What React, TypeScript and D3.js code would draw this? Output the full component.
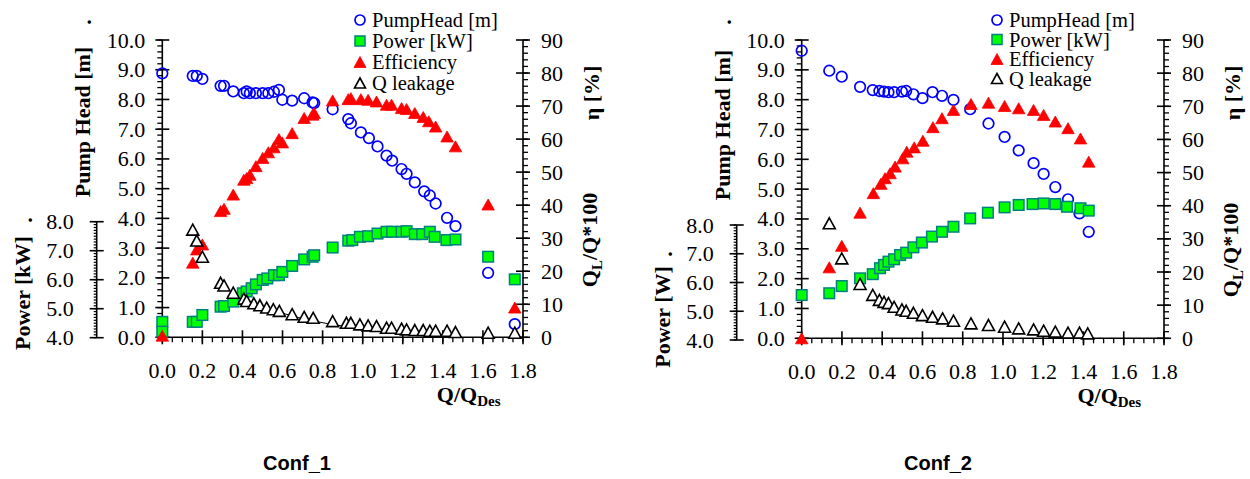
import React from 'react';
import * as d3 from 'd3';

// ---------- DATA (Conf_1) ----------
const head1Q = [0, 0.152, 0.172, 0.2, 0.291, 0.308, 0.354, 0.407, 0.421, 0.437, 0.467, 0.501, 0.529, 0.557, 0.582, 0.599, 0.648, 0.708, 0.75, 0.758, 0.85, 0.928, 0.941, 0.991, 1.031, 1.074, 1.119, 1.147, 1.194, 1.219, 1.26, 1.307, 1.335, 1.364, 1.421, 1.463, 1.626, 1.759];
const head1 = [8.88, 8.79, 8.79, 8.69, 8.46, 8.46, 8.27, 8.21, 8.27, 8.21, 8.21, 8.21, 8.21, 8.26, 8.32, 7.99, 7.96, 8.04, 7.9, 7.88, 7.67, 7.34, 7.2, 6.89, 6.7, 6.42, 6.11, 5.94, 5.66, 5.5, 5.21, 4.91, 4.77, 4.5, 4.02, 3.74, 2.17, 0.44];
const pow1Q = [0, 0, 0.152, 0.172, 0.2, 0.291, 0.308, 0.354, 0.402, 0.421, 0.446, 0.467, 0.501, 0.524, 0.557, 0.582, 0.599, 0.648, 0.708, 0.75, 0.758, 0.85, 0.928, 0.948, 0.986, 1.027, 1.074, 1.119, 1.147, 1.194, 1.219, 1.26, 1.297, 1.335, 1.359, 1.418, 1.463, 1.626, 1.759];
const pow1 = [0.52, 0.19, 0.52, 0.52, 0.75, 1.03, 1.05, 1.2, 1.48, 1.54, 1.65, 1.78, 1.93, 1.98, 2.09, 2.09, 2.2, 2.4, 2.62, 2.71, 2.76, 3.02, 3.25, 3.27, 3.38, 3.4, 3.49, 3.55, 3.55, 3.55, 3.57, 3.47, 3.47, 3.55, 3.38, 3.27, 3.29, 2.71, 1.95];
const eff1Q = [0, 0.152, 0.172, 0.2, 0.291, 0.308, 0.354, 0.407, 0.421, 0.437, 0.467, 0.501, 0.529, 0.557, 0.582, 0.599, 0.648, 0.708, 0.75, 0.758, 0.85, 0.928, 0.941, 0.991, 1.027, 1.069, 1.119, 1.144, 1.194, 1.219, 1.26, 1.302, 1.33, 1.364, 1.421, 1.463, 1.626, 1.759];
const eff1 = [0.5, 22.6, 26.6, 28.1, 38.2, 38.9, 43.2, 47.7, 48.2, 49.2, 51.8, 54.3, 56.0, 57.5, 60.0, 59.0, 61.8, 66.4, 67.4, 67.9, 71.7, 72.1, 72.4, 72.1, 71.9, 71.4, 70.4, 70.4, 69.4, 69.1, 67.9, 66.7, 65.4, 63.8, 60.8, 57.8, 40.2, 9.0];
const leak1Q = [0.152, 0.172, 0.2, 0.291, 0.308, 0.354, 0.407, 0.421, 0.457, 0.487, 0.521, 0.554, 0.584, 0.648, 0.708, 0.753, 0.85, 0.919, 0.941, 0.986, 1.027, 1.069, 1.119, 1.144, 1.194, 1.219, 1.26, 1.302, 1.335, 1.364, 1.421, 1.463, 1.626, 1.759];
const leak1 = [32.6, 29.3, 24.4, 16.5, 15.7, 13.5, 11.7, 11.0, 10.3, 9.7, 9.0, 8.5, 8.0, 7.0, 6.2, 5.9, 4.9, 4.4, 4.4, 3.9, 3.6, 3.4, 2.9, 2.9, 2.6, 2.4, 2.2, 2.2, 2.0, 2.0, 2.0, 1.6, 1.4, 1.4];
const leakFit1Q = [0.42, 0.6, 0.9, 1.1, 1.42];
const leakFit1 = [11.3, 7.3, 3.4, 2.0, 0.3];

// ---------- DATA (Conf_2) ----------
const head2Q = [0, 0.137, 0.199, 0.29, 0.353, 0.386, 0.409, 0.431, 0.459, 0.498, 0.519, 0.555, 0.6, 0.65, 0.697, 0.754, 0.837, 0.928, 1.008, 1.078, 1.152, 1.202, 1.26, 1.323, 1.38, 1.426];
const head2 = [9.64, 8.97, 8.77, 8.43, 8.32, 8.29, 8.27, 8.25, 8.25, 8.27, 8.29, 8.18, 8.05, 8.25, 8.13, 7.99, 7.68, 7.2, 6.75, 6.3, 5.87, 5.51, 5.07, 4.66, 4.19, 3.57];
const pow2Q = [0, 0.137, 0.199, 0.29, 0.353, 0.389, 0.409, 0.431, 0.459, 0.489, 0.519, 0.555, 0.597, 0.647, 0.697, 0.754, 0.837, 0.925, 1.008, 1.078, 1.147, 1.202, 1.26, 1.318, 1.385, 1.426];
const pow2 = [1.45, 1.51, 1.75, 2.01, 2.15, 2.35, 2.46, 2.57, 2.65, 2.79, 2.87, 3.05, 3.21, 3.41, 3.57, 3.74, 4.02, 4.21, 4.39, 4.47, 4.5, 4.52, 4.5, 4.41, 4.36, 4.28];
const eff2Q = [0, 0.137, 0.199, 0.29, 0.356, 0.393, 0.414, 0.439, 0.464, 0.502, 0.522, 0.559, 0.602, 0.652, 0.697, 0.754, 0.841, 0.928, 1.008, 1.078, 1.152, 1.202, 1.26, 1.323, 1.385, 1.426];
const eff2 = [0, 21.4, 27.9, 37.9, 43.8, 46.6, 48.3, 49.8, 51.8, 54.3, 56.3, 57.6, 59.6, 63.7, 66.4, 68.9, 70.7, 71.1, 70.1, 69.4, 68.9, 67.4, 65.4, 63.4, 60.3, 53.3];
const leak2Q = [0.137, 0.199, 0.29, 0.353, 0.386, 0.409, 0.431, 0.459, 0.498, 0.519, 0.555, 0.6, 0.65, 0.7, 0.754, 0.841, 0.928, 1.008, 1.078, 1.152, 1.202, 1.26, 1.323, 1.38, 1.421];
const leak2 = [34.7, 24.1, 16.4, 13.1, 11.6, 11.0, 10.6, 9.5, 8.7, 8.3, 7.7, 7.0, 6.5, 6.0, 5.3, 4.5, 4.0, 3.5, 3.0, 2.7, 2.3, 2.0, 1.7, 1.7, 1.5];

// ---------- LABELS ----------
const legendLabels = ['PumpHead [m]', 'Power [kW]', 'Efficiency', 'Q leakage'];
const xTickValues = [0, 0.2, 0.4, 0.6, 0.8, 1.0, 1.2, 1.4, 1.6, 1.8];
const headTickValues = [0, 1, 2, 3, 4, 5, 6, 7, 8, 9, 10];
const powTickValues = [4, 5, 6, 7, 8];
const etaTickValues = [0, 10, 20, 30, 40, 50, 60, 70, 80, 90];

const SERIF = '"Liberation Serif", "Times New Roman", serif';
const SANS = '"Liberation Sans", Arial, sans-serif';

type PanelCfg = {
  title: string;
  titleX: number;
  x0: number; x1: number;
  yTop: number; yBot: number;
  powX: number; powTop: number; powBot: number;
  powLabel: string; powLabelY: number; powDotY: number;
  headLabelY: number; qlLabelY: number;
  legendX: number; legendY0: number; legendDy: number;
  headQ: number[]; head: number[];
  powQ: number[]; pow: number[];
  effQ: number[]; eff: number[];
  leakQ: number[]; leak: number[];
  fitQ?: number[]; fit?: number[];
};

const triPath = (cx: number, cy: number, w: number, h: number) =>
  `M${cx},${cy - h / 2}L${cx + w / 2},${cy + h / 2}L${cx - w / 2},${cy + h / 2}Z`;

function Panel({ c }: { c: PanelCfg }) {
  const x = d3.scaleLinear().domain([0, 1.8]).range([c.x0, c.x1]);
  const yH = d3.scaleLinear().domain([0, 10]).range([c.yBot, c.yTop]);
  const yE = d3.scaleLinear().domain([0, 90]).range([c.yBot, c.yTop]);
  const yP = d3.scaleLinear().domain([4, 8]).range([c.powBot, c.powTop]);
  const xr = c.x1;

  const xMinor = d3.range(0, 1.8001, 0.05);
  const hMinor = d3.range(0, 10.001, 0.2);
  const eMinor = d3.range(0, 90.001, 2);
  const pMinor = d3.range(4, 8.001, 0.1);

  const fitLine = c.fitQ && c.fit
    ? d3.line<number>().x((d, i) => x(c.fitQ![i])).y((d) => yE(d)).curve(d3.curveMonotoneX)(c.fit)
    : null;

  const stroke = { stroke: '#000', strokeWidth: 1.6 };
  return (
    <g>
      {/* x axis */}
      <line x1={c.x0} x2={xr} y1={c.yBot} y2={c.yBot} {...stroke} />
      {xMinor.map((v, i) => (
        <line key={'xm' + i} x1={x(v)} x2={x(v)} y1={c.yBot} y2={c.yBot + 5} stroke="#000" strokeWidth={1.3} />
      ))}
      {xTickValues.map((v) => (
        <g key={'xt' + v}>
          <line x1={x(v)} x2={x(v)} y1={c.yBot - 7} y2={c.yBot + 7} {...stroke} />
          <text x={x(v)} y={c.yBot + 41} textAnchor="middle" fontFamily={SERIF} fontSize={22}>{v.toFixed(1)}</text>
        </g>
      ))}
      <text x={x(1.37)} y={c.yBot + 65} fontFamily={SERIF} fontSize={22} fontWeight="bold">
        Q/Q<tspan fontSize={15} dy={4}>Des</tspan>
      </text>

      {/* head axis */}
      <line x1={c.x0} x2={c.x0} y1={c.yTop} y2={c.yBot} {...stroke} />
      {hMinor.map((v, i) => (
        <line key={'hm' + i} x1={c.x0 - 5} x2={c.x0} y1={yH(v)} y2={yH(v)} stroke="#000" strokeWidth={1.3} />
      ))}
      {headTickValues.map((v) => (
        <g key={'ht' + v}>
          <line x1={c.x0 - 7} x2={c.x0 + 7} y1={yH(v)} y2={yH(v)} {...stroke} />
          <text x={c.x0 - 17} y={yH(v) + 7.5} textAnchor="end" fontFamily={SERIF} fontSize={22}>{v.toFixed(1)}</text>
        </g>
      ))}
      <text transform={`translate(${c.x0 - 72},${c.headLabelY}) rotate(-90)`} textAnchor="middle" fontFamily={SERIF} fontSize={22} fontWeight="bold">Pump Head [m]</text>
      <text transform={`translate(${c.x0 - 71},${c.yTop - 18}) rotate(-90)`} textAnchor="middle" fontFamily={SERIF} fontSize={22} fontWeight="bold">.</text>

      {/* power axis */}
      <line x1={c.powX} x2={c.powX} y1={c.powTop} y2={c.powBot} {...stroke} />
      {pMinor.map((v, i) => (
        <line key={'pm' + i} x1={c.powX - 3} x2={c.powX} y1={yP(v)} y2={yP(v)} stroke="#000" strokeWidth={1.2} />
      ))}
      {powTickValues.map((v) => (
        <g key={'pt' + v}>
          <line x1={c.powX - 7} x2={c.powX + 7} y1={yP(v)} y2={yP(v)} {...stroke} />
          <text x={c.powX - 23} y={yP(v) + 7.5} textAnchor="end" fontFamily={SERIF} fontSize={22}>{v.toFixed(1)}</text>
        </g>
      ))}
      <text transform={`translate(${c.powX - 67},${c.powLabelY}) rotate(-90)`} textAnchor="middle" fontFamily={SERIF} fontSize={22} fontWeight="bold">{c.powLabel}</text>
      <text transform={`translate(${c.powX - 65},${c.powDotY}) rotate(-90)`} textAnchor="middle" fontFamily={SERIF} fontSize={22} fontWeight="bold">.</text>

      {/* eta axis */}
      <line x1={xr} x2={xr} y1={c.yTop} y2={c.yBot} {...stroke} />
      {eMinor.map((v, i) => (
        <line key={'em' + i} x1={xr} x2={xr + 5} y1={yE(v)} y2={yE(v)} stroke="#000" strokeWidth={1.3} />
      ))}
      {etaTickValues.map((v) => (
        <g key={'et' + v}>
          <line x1={xr - 7} x2={xr + 7} y1={yE(v)} y2={yE(v)} {...stroke} />
          <text x={xr + 18} y={yE(v) + 7.5} textAnchor="start" fontFamily={SERIF} fontSize={22}>{v}</text>
        </g>
      ))}
      <text transform={`translate(${xr + 76},${93}) rotate(-90)`} textAnchor="middle" fontFamily={SERIF} fontSize={22} fontWeight="bold">η [%]</text>
      <text transform={`translate(${xr + 74},${c.qlLabelY}) rotate(-90)`} textAnchor="middle" fontFamily={SERIF} fontSize={22} fontWeight="bold">
        Q<tspan fontSize={15} dy={5}>L</tspan><tspan dy={-5}>/Q*100</tspan>
      </text>

      {/* series */}
      {fitLine && <path d={fitLine} fill="none" stroke="#000" strokeWidth={1} />}
      {c.head.map((v, i) => (
        <circle key={'h' + i} cx={x(c.headQ[i])} cy={yH(v)} r={5.3} fill="none" stroke="#0000ff" strokeWidth={1.7} />
      ))}
      {c.pow.map((v, i) => (
        <rect key={'p' + i} x={x(c.powQ[i]) - 5.3} y={yH(v) - 5.3} width={10.6} height={10.6} fill="#00ff00" stroke="#008080" strokeWidth={1.5} />
      ))}
      {c.eff.map((v, i) => (
        <path key={'e' + i} d={triPath(x(c.effQ[i]), yE(v), 12.5, 11)} fill="#ff0000" stroke="#ff0000" strokeWidth={0.8} />
      ))}
      {c.leak.map((v, i) => (
        <path key={'l' + i} d={triPath(x(c.leakQ[i]), yE(v), 12, 11)} fill="#fff" stroke="#000" strokeWidth={1.6} />
      ))}

      {/* legend */}
      {legendLabels.map((lab, i) => {
        const ly = c.legendY0 + i * c.legendDy;
        const mx = c.legendX;
        let marker;
        if (i === 0) marker = <circle cx={mx} cy={ly} r={5} fill="none" stroke="#0000ff" strokeWidth={1.7} />;
        else if (i === 1) marker = <rect x={mx - 5} y={ly - 5} width={10} height={10} fill="#00ff00" stroke="#008080" strokeWidth={1.5} />;
        else if (i === 2) marker = <path d={triPath(mx, ly, 12, 11)} fill="#ff0000" stroke="#ff0000" strokeWidth={0.8} />;
        else marker = <path d={triPath(mx, ly, 11, 10)} fill="#fff" stroke="#000" strokeWidth={1.6} />;
        return (
          <g key={'lg' + i}>
            {marker}
            <text x={mx + 12} y={ly + 7} fontFamily={SERIF} fontSize={20.5}>{lab}</text>
          </g>
        );
      })}

      <text x={c.titleX} y={470} textAnchor="middle" fontFamily={SANS} fontSize={20} fontWeight="bold">{c.title}</text>
    </g>
  );
}

const panel1: PanelCfg = {
  title: 'Conf_1', titleX: 297,
  x0: 162.3, x1: 523, yTop: 40, yBot: 337.3,
  powX: 96.7, powTop: 221.7, powBot: 337.7,
  powLabel: 'Power [kW]', powLabelY: 293, powDotY: 220,
  headLabelY: 122, qlLabelY: 240,
  legendX: 360, legendY0: 20, legendDy: 21,
  headQ: head1Q, head: head1, powQ: pow1Q, pow: pow1,
  effQ: eff1Q, eff: eff1, leakQ: leak1Q, leak: leak1,
  fitQ: leakFit1Q, fit: leakFit1,
};

const panel2: PanelCfg = {
  title: 'Conf_2', titleX: 938,
  x0: 801.7, x1: 1164, yTop: 40, yBot: 338.3,
  powX: 736.7, powTop: 225, powBot: 340,
  powLabel: 'Power [W]', powLabelY: 317, powDotY: 254,
  headLabelY: 125, qlLabelY: 250,
  legendX: 997, legendY0: 20, legendDy: 19.5,
  headQ: head2Q, head: head2, powQ: pow2Q, pow: pow2,
  effQ: eff2Q, eff: eff2, leakQ: leak2Q, leak: leak2,
};

export default function App() {
  return (
    <svg width={1250} height={479} viewBox="0 0 1250 479" style={{ position: 'absolute', left: 0, top: 0, background: '#fff' }}>
      <rect x={0} y={0} width={1250} height={479} fill="#fff" />
      <Panel c={panel1} />
      <Panel c={panel2} />
    </svg>
  );
}
